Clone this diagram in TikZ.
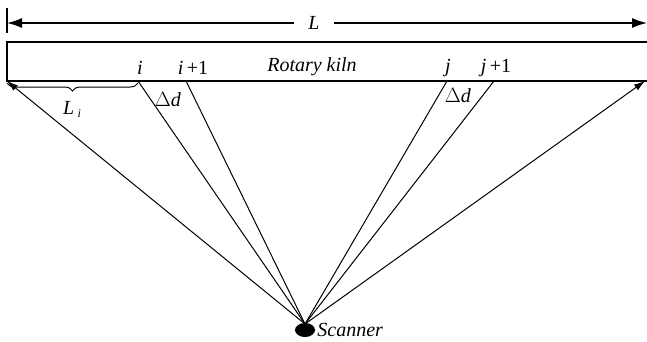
\documentclass[tikz,border=0pt]{standalone}
\usepackage{fontspec}
\setmainfont{Liberation Serif}
\usetikzlibrary{arrows.meta, positioning, decorations.pathreplacing, shapes.geometric}
\newcommand{\labelsize}{\fontsize{20}{23}\selectfont}
\tikzset{
  kiln/.style={line width=1.7pt},
  dimline/.style={line width=1.5pt, -{Latex[length=15pt, width=10pt]}},
  ray/.style={line width=1pt},
  rayarrow/.style={line width=1pt, -{Latex[length=11pt, width=7pt]}},
  lbl/.style={font=\labelsize\itshape, inner sep=1pt},
  uplbl/.style={font=\labelsize, inner sep=1pt},
  brace/.style={decorate, decoration={brace, amplitude=8pt, mirror}, line width=1pt},
}
\begin{document}
\begin{tikzpicture}[x=1pt, y=-1pt]
  \useasboundingbox (0,0) rectangle (647,341);

  % length of the kiln
  \draw[line width=1.5pt] (7,8) -- (7,33);
  \coordinate (lend) at (7,23);
  \coordinate (rend) at (647,23);
  \node (Llab) [lbl, inner sep=14pt] at (314,23) {L};
  \draw[dimline] (Llab) -- (lend);
  \draw[dimline] (Llab) -- (rend);

  % kiln body
  \draw[kiln] (647,42) -- (7,42) -- (7,81) -- (647,81);
  \node (kilnlab) [lbl] at (312,67) {Rotary kiln};

  % points on the kiln
  \coordinate (p0) at (7,81);
  \coordinate (pi) at (138,81);
  \coordinate (pii) at (186,81);
  \coordinate (pj) at (447,81);
  \coordinate (pjj) at (494,81);
  \coordinate (pn) at (645,81);

  \node (ilab) [lbl] at (140,68) {i};
  \node (iilab) [uplbl] at (193,68) {\textit{i}\,+1};
  \node (jlab) [lbl] at (448,68) {j};
  \node (jjlab) [uplbl] at (496,68) {\textit{j}\,+1};

  % scanner
  \node (scan) [ellipse, fill=black, minimum width=20pt, minimum height=14pt, inner sep=0pt] at (305,330) {};
  \node (scanlab) [lbl, inner sep=0pt, right=2pt of scan] {Scanner};
  \coordinate (sc) at (305,324);

  % rays
  \draw[rayarrow] (sc) -- (p0);
  \draw[ray] (sc) -- (pi);
  \draw[ray] (sc) -- (pii);
  \draw[ray] (sc) -- (pj);
  \draw[ray] (sc) -- (pjj);
  \draw[rayarrow] (sc) -- (pn);

  \node (d1) [uplbl] at (168,100) {$\Delta$\textit{d}};
  \node (d2) [uplbl] at (458,96) {$\Delta$\textit{d}};

  % segment L_i
  \draw[brace] (7,83) -- (138,83);
  \node (Lilab) [lbl] at (72,109) {L\,{\fontsize{12}{14}\selectfont\raisebox{-3pt}{i}}};
\end{tikzpicture}
\end{document}
